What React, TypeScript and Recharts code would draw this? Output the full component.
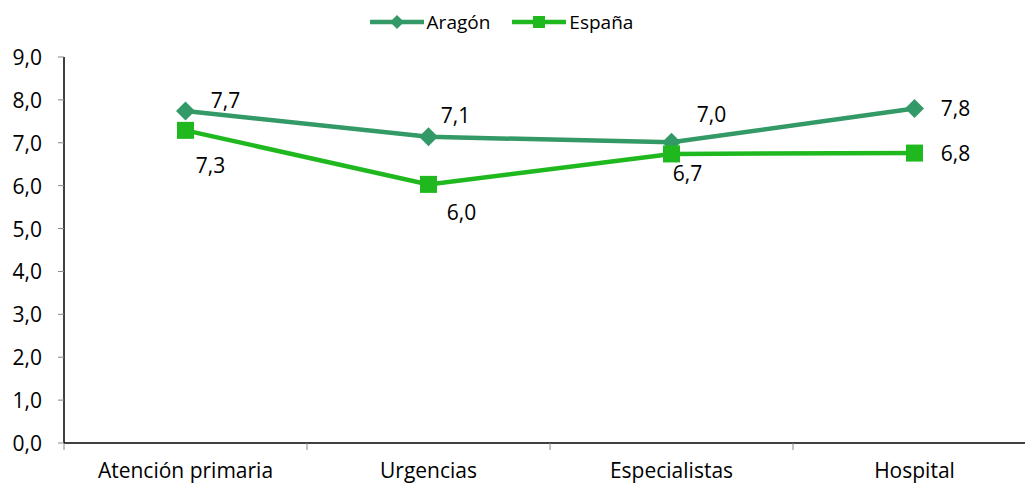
import { LineChart, Line, XAxis, YAxis, Legend, LabelList } from "recharts";

const CATEGORIES = ["Atención primaria", "Urgencias", "Especialistas", "Hospital"];
const ARAGON = [7.74, 7.14, 7.01, 7.8];
const ESPANA = [7.29, 6.03, 6.74, 6.76];
const Y_TICKS = [0, 1, 2, 3, 4, 5, 6, 7, 8, 9];
const X_TICKS = [0, 0.5, 1, 1.5, 2, 2.5, 3, 3.5];

const ARAGON_COLOR = "#339966";
const ESPANA_COLOR = "#1FB81F";
const FONT = "'Open Sans', sans-serif";
const FONT_SIZE = 21;

// label offsets from each point (text centre)
const ARAGON_LABEL_OFFSETS = [
  [40, -11],
  [27, -22],
  [40, -28],
  [41, 0],
];
const ESPANA_LABEL_OFFSETS = [
  [25, 35],
  [33, 28],
  [16, 19],
  [41, 0],
];

const data = CATEGORIES.map((name, i) => ({
  x: i + 0.5,
  name,
  aragon: ARAGON[i],
  espana: ESPANA[i],
}));

const fmt = (v: number) => v.toFixed(1).replace(".", ",");

const Diamond = (props: any) => {
  const { cx, cy } = props;
  if (cx == null || cy == null) return null;
  const r = 9.5;
  return (
    <path
      d={`M${cx},${cy - r}L${cx + r},${cy}L${cx},${cy + r}L${cx - r},${cy}Z`}
      fill={ARAGON_COLOR}
    />
  );
};

const Square = (props: any) => {
  const { cx, cy } = props;
  if (cx == null || cy == null) return null;
  const s = 8.5;
  return <rect x={cx - s} y={cy - s} width={s * 2} height={s * 2} fill={ESPANA_COLOR} />;
};

const makeLabel = (offsets: number[][]) => (props: any) => {
  const { x, y, index, value } = props;
  const [dx, dy] = offsets[index] || [0, 0];
  return (
    <text
      x={x + dx}
      y={y + dy}
      textAnchor="middle"
      dominantBaseline="central"
      fontSize={FONT_SIZE}
      fontFamily={FONT}
      fill="#000"
    >
      {fmt(value)}
    </text>
  );
};

const XTick = (props: any) => {
  const { x, y, payload } = props;
  const v = payload.value;
  if (Number.isInteger(v)) {
    return <line x1={x} y1={y} x2={x} y2={y + 7} stroke="#868686" strokeWidth={1} />;
  }
  const label = CATEGORIES[Math.floor(v)];
  return (
    <text
      x={x}
      y={y + 27}
      textAnchor="middle"
      dominantBaseline="central"
      fontSize={FONT_SIZE}
      fontFamily={FONT}
      fill="#000"
    >
      {label}
    </text>
  );
};

const YTick = (props: any) => {
  const { y, payload } = props;
  return (
    <g>
      <line x1={58} y1={y} x2={64} y2={y} stroke="#868686" strokeWidth={1} />
      <text
        x={42}
        y={y}
        textAnchor="end"
        dominantBaseline="central"
        fontSize={FONT_SIZE}
        fontFamily={FONT}
        fill="#000"
      >
        {fmt(payload.value)}
      </text>
    </g>
  );
};

const LegendContent = () => (
  <div
    style={{
      display: "flex",
      justifyContent: "center",
      alignItems: "center",
      height: 24,
      fontFamily: FONT,
      fontSize: 19,
      color: "#000",
      paddingRight: 22,
    }}
  >
    <svg width={54} height={20} style={{ marginRight: 3 }}>
      <line x1={0} y1={10} x2={54} y2={10} stroke={ARAGON_COLOR} strokeWidth={4.5} />
      <path d="M27,3L34,10L27,17L20,10Z" fill={ARAGON_COLOR} />
    </svg>
    <span style={{ marginRight: 22 }}>Aragón</span>
    <svg width={54} height={20} style={{ marginRight: 3 }}>
      <line x1={0} y1={10} x2={54} y2={10} stroke={ESPANA_COLOR} strokeWidth={4.5} />
      <rect x={21} y={4} width={12} height={12} fill={ESPANA_COLOR} />
    </svg>
    <span>España</span>
  </div>
);

export default function App() {
  return (
    <div
      style={{
        position: "fixed",
        left: 0,
        top: 0,
        width: 1025,
        height: 486,
        overflow: "hidden",
        background: "#fff",
      }}
    >
      <LineChart
        width={1040}
        height={486}
        data={data}
        margin={{ top: 33, right: 4, bottom: 0, left: 0 }}
      >
        <Legend
          verticalAlign="top"
          align="center"
          content={<LegendContent />}
          wrapperStyle={{ top: 10, left: 0, width: 1025 }}
        />
        <XAxis
          dataKey="x"
          type="number"
          domain={[0, 4]}
          ticks={X_TICKS}
          interval={0}
          height={43}
          tickSize={0}
          tickMargin={0}
          tickLine={false}
          axisLine={{ stroke: "#000", strokeWidth: 1.5 }}
          tick={<XTick />}
        />
        <YAxis
          type="number"
          domain={[0, 9]}
          ticks={Y_TICKS}
          interval={0}
          width={64}
          tickSize={0}
          tickMargin={0}
          tickLine={false}
          axisLine={{ stroke: "#000", strokeWidth: 1.5 }}
          tick={<YTick />}
        />
        <Line
          dataKey="aragon"
          stroke={ARAGON_COLOR}
          strokeWidth={4.5}
          dot={<Diamond />}
          activeDot={false}
          isAnimationActive={false}
        >
          <LabelList dataKey="aragon" content={makeLabel(ARAGON_LABEL_OFFSETS)} />
        </Line>
        <Line
          dataKey="espana"
          stroke={ESPANA_COLOR}
          strokeWidth={4.5}
          dot={<Square />}
          activeDot={false}
          isAnimationActive={false}
        >
          <LabelList dataKey="espana" content={makeLabel(ESPANA_LABEL_OFFSETS)} />
        </Line>
      </LineChart>
    </div>
  );
}
